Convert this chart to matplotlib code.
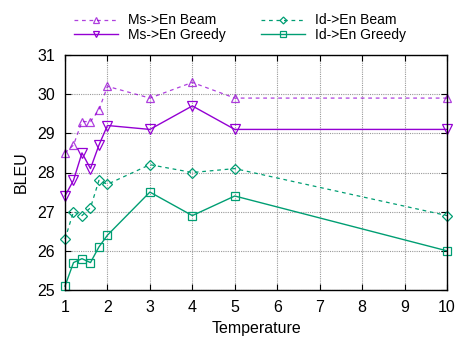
import matplotlib
matplotlib.use("Agg")
import matplotlib.pyplot as plt

temps = [1, 1.2, 1.4, 1.6, 1.8, 2, 3, 4, 5, 10]
ms_beam = [28.5, 28.7, 29.3, 29.3, 29.6, 30.2, 29.9, 30.3, 29.9, 29.9]
ms_greedy = [27.4, 27.8, 28.5, 28.1, 28.7, 29.2, 29.1, 29.7, 29.1, 29.1]
id_beam = [26.3, 27.0, 26.9, 27.1, 27.8, 27.7, 28.2, 28.0, 28.1, 26.9]
id_greedy = [25.1, 25.7, 25.8, 25.7, 26.1, 26.4, 27.5, 26.9, 27.4, 26.0]

purple = "#9400d3"
green = "#009e73"

plt.rcParams["font.family"] = ["Liberation Sans", "DejaVu Sans"]

fig = plt.figure(figsize=(4.57, 3.37), dpi=100)
ax = fig.add_axes([65 / 457, 47 / 337, 382 / 457, 235 / 337])

ax.plot(temps, ms_beam, color=purple, ls=(0, (3, 3)), lw=0.9, alpha=0.75,
        marker="^", ms=6, mfc="none", mew=0.9, clip_on=False, label="Ms->En Beam")
ax.plot(temps, ms_greedy, color=purple, lw=1.0,
        marker="v", ms=7, mfc="none", mew=0.9, clip_on=False, label="Ms->En Greedy")
ax.plot(temps, id_beam, color=green, ls=(0, (3, 3)), lw=0.9,
        marker="D", ms=5, mfc="none", mew=0.9, clip_on=False, label="Id->En Beam")
ax.plot(temps, id_greedy, color=green, lw=1.0,
        marker="s", ms=6, mfc="none", mew=0.9, clip_on=False, label="Id->En Greedy")

ax.set_xlim(1, 10)
ax.set_ylim(25, 31)
ax.set_xticks(range(1, 11))
ax.set_yticks(range(25, 32))
ax.grid(True, color="#999999", ls=(0, (1, 1)), lw=0.8)
ax.tick_params(direction="in", top=True, right=True, labelsize=11.5, length=4, pad=7)
for s in ax.spines.values():
    s.set_linewidth(1.0)

ax.set_xlabel("Temperature", fontsize=11.5, labelpad=4.5)
ax.set_ylabel("BLEU", fontsize=11.5, labelpad=6)

fig.legend(loc="upper center", bbox_to_anchor=(0.525, 0.985), ncol=2,
           frameon=False, fontsize=10, handlelength=3.2, columnspacing=2.5,
           handletextpad=0.7, labelspacing=0.05, borderaxespad=0.2,
           markerscale=0.7)

fig.savefig("out.png", dpi=100)
